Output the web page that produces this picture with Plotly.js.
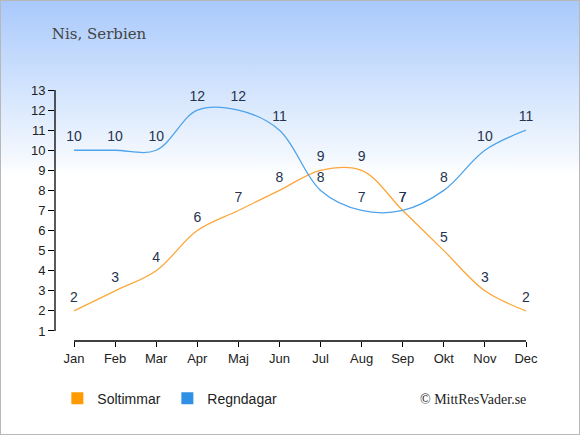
<!DOCTYPE html>
<html><head><meta charset="utf-8">
<script src="https://cdn.plot.ly/plotly-3.0.1.min.js"></script>
<style>
html,body{margin:0;padding:0;}
#wrap{width:578px;height:433px;border:1px solid #b8b8b8;background:linear-gradient(to bottom,#a9c9fb 0%,#d6e6fd 22%,#f3f8fe 36%,#ffffff 40%,#ffffff 100%);position:relative;}
#chart{width:578px;height:433px;}
</style></head>
<body><div id="wrap"><div id="chart"></div></div>
<script>
const months = ["Jan","Feb","Mar","Apr","Maj","Jun","Jul","Aug","Sep","Okt","Nov","Dec"];
const soltimmar = [2,3,4,6,7,8,9,9,7,5,3,2];
const regndagar = [10,10,10,12,12,11,8,7,7,8,10,11];
const yTicks = [1,2,3,4,5,6,7,8,9,10,11,12,13];
const idx = months.map((m,i)=>i);
const labelFont = {family:"Liberation Sans, Arial, sans-serif", size:14, color:"#26334f"};
const traces = [
 {x:idx, y:soltimmar, mode:"lines+markers+text", text:soltimmar.map(String), textposition:"top center", cliponaxis:false,
  marker:{size:7, opacity:0}, textfont:labelFont, line:{color:"#fba73a", width:1.3, shape:"spline"}, showlegend:false, hoverinfo:"skip"},
 {x:idx, y:regndagar, mode:"lines+markers+text", text:regndagar.map(String), textposition:"top center", cliponaxis:false,
  marker:{size:7, opacity:0}, textfont:labelFont, line:{color:"#4ea3ea", width:1.3, shape:"spline"}, showlegend:false, hoverinfo:"skip"},
 {x:[null], y:[null], mode:"markers", name:"Soltimmar", marker:{symbol:"square", size:12, color:"#ff9a00"}},
 {x:[null], y:[null], mode:"markers", name:"Regndagar", marker:{symbol:"square", size:12, color:"#2f90e6"}}
];
const layout = {
 width:578, height:433,
 margin:{l:54, r:53, t:89, b:93},
 paper_bgcolor:"rgba(0,0,0,0)", plot_bgcolor:"rgba(0,0,0,0)",
 title:{text:"Nis, Serbien", x:0.088, xanchor:"left", y:0.925, yanchor:"middle",
   font:{family:"DejaVu Serif, serif", size:15, color:"#444"}},
 xaxis:{range:[-0.463, months.length-1], tickvals:idx, ticktext:months, ticks:"outside", ticklen:5, tickcolor:"#000",
   showgrid:false, zeroline:false, showline:false, tickfont:{family:"Liberation Sans, Arial, sans-serif", size:13, color:"#222"}, fixedrange:true},
 yaxis:{range:[0.5, yTicks[yTicks.length-1]], tickvals:yTicks, ticks:"outside", ticklen:6, tickcolor:"#000",
   showgrid:false, zeroline:false, showline:false, tickfont:{family:"Liberation Sans, Arial, sans-serif", size:13, color:"#222"}, fixedrange:true},
 shapes:[
  {type:"line", xref:"paper", yref:"y", x0:0, x1:0, y0:yTicks[0], y1:yTicks[yTicks.length-1], line:{color:"#000", width:1.3}},
  {type:"line", xref:"x", yref:"paper", x0:0, x1:months.length-1, y0:0, y1:0, line:{color:"#000", width:1.3}}
 ],
 legend:{orientation:"h", x:0.005, y:-0.23, xanchor:"left", yanchor:"middle", entrywidth:65, entrywidthmode:"pixels",
   font:{family:"Liberation Sans, Arial, sans-serif", size:14, color:"#222"}, tracegroupgap:0},
 annotations:[{text:"© MittResVader.se", xref:"paper", yref:"paper", x:1.005, y:-0.233, xanchor:"right", yanchor:"middle", showarrow:false,
   font:{family:"Liberation Serif, serif", size:14, color:"#222"}}],
 showlegend:true
};
Plotly.newPlot("chart", traces, layout, {displayModeBar:false, staticPlot:true});
</script></body></html>
